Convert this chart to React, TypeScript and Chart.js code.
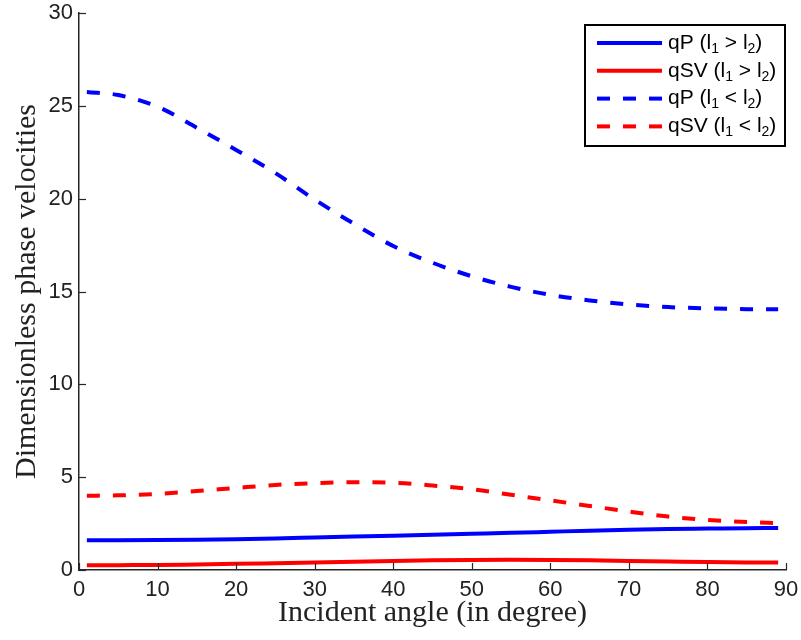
import React, { useEffect, useRef } from 'react';
import { Chart, registerables } from 'chart.js';

Chart.register(...registerables);

// Incident angle (degree)
const angles = [1, 5, 10, 15, 20, 25, 30, 35, 40, 45, 50, 55, 60, 65, 70, 75, 80, 85, 89];
// qP (l1 > l2)
const qPGreater = [1.6, 1.6, 1.61, 1.63, 1.66, 1.7, 1.75, 1.8, 1.85, 1.9, 1.95, 2.0, 2.06, 2.12, 2.17, 2.21, 2.23, 2.25, 2.26];
// qSV (l1 > l2)
const qSVGreater = [0.25, 0.26, 0.27, 0.3, 0.33, 0.37, 0.41, 0.45, 0.49, 0.52, 0.54, 0.55, 0.54, 0.52, 0.49, 0.46, 0.43, 0.41, 0.4];
// qP (l1 < l2)
const qPLess = [25.75, 25.58, 24.95, 23.82, 22.62, 21.38, 19.95, 18.65, 17.45, 16.55, 15.82, 15.25, 14.82, 14.52, 14.3, 14.16, 14.09, 14.05, 14.04];
// qSV (l1 < l2)
const qSVLess = [4.0, 4.02, 4.1, 4.25, 4.42, 4.58, 4.68, 4.73, 4.7, 4.55, 4.35, 4.05, 3.75, 3.45, 3.15, 2.88, 2.7, 2.58, 2.53];

const xTicks = [0, 10, 20, 30, 40, 50, 60, 70, 80, 90];
const yTicks = [0, 5, 10, 15, 20, 25, 30];

const seriesNames = ['qP', 'qSV', 'qP', 'qSV'];
const seriesOps = ['>', '>', '<', '<'];

const xTitle = 'Incident angle (in degree)';
const yTitle = 'Dimensionless phase velocities';

const SANS = "'Liberation Sans', Arial, Helvetica, sans-serif";
const SERIF = "'Liberation Serif', 'Times New Roman', Times, serif";

const toPoints = (ys: number[]) => angles.map((x, i) => ({ x, y: ys[i] }));

const inwardTicks = {
  id: 'inwardTicks',
  afterDraw(chart: any) {
    const { ctx, chartArea, scales } = chart;
    const x = scales.x;
    const y = scales.y;
    ctx.save();
    ctx.strokeStyle = '#262626';
    ctx.lineWidth = 1.2;
    xTicks.forEach((v) => {
      const px = Math.round(x.getPixelForValue(v)) + 0.5;
      ctx.beginPath();
      ctx.moveTo(px, chartArea.bottom);
      ctx.lineTo(px, chartArea.bottom - 7);
      ctx.stroke();
    });
    yTicks.forEach((v) => {
      const py = Math.round(y.getPixelForValue(v)) + 0.5;
      ctx.beginPath();
      ctx.moveTo(chartArea.left, py);
      ctx.lineTo(chartArea.left + 7, py);
      ctx.stroke();
    });
    ctx.restore();
  },
};

const legendBox = {
  id: 'legendBox',
  afterDraw(chart: any) {
    const { ctx, chartArea } = chart;
    const bw = 200;
    const bh = 121;
    const bx = chartArea.right - bw - 1;
    const by = chartArea.top + 12;
    ctx.save();
    ctx.fillStyle = '#ffffff';
    ctx.fillRect(bx, by, bw, bh);
    ctx.strokeStyle = '#000000';
    ctx.lineWidth = 2;
    ctx.strokeRect(bx, by, bw, bh);
    chart.data.datasets.forEach((ds: any, i: number) => {
      const ly = by + 18 + i * 27.8;
      ctx.strokeStyle = ds.borderColor;
      ctx.lineWidth = 4;
      ctx.setLineDash(ds.borderDash || []);
      ctx.beginPath();
      ctx.moveTo(bx + 12, ly);
      ctx.lineTo(bx + 77, ly);
      ctx.stroke();
      ctx.setLineDash([]);
      ctx.fillStyle = '#000000';
      ctx.textAlign = 'left';
      ctx.textBaseline = 'middle';
      const big = `21px ${SANS}`;
      const small = `14px ${SANS}`;
      let tx = bx + 83;
      const pieces: [string, boolean][] = [
        [`${seriesNames[i]} (l`, false],
        ['1', true],
        [` ${seriesOps[i]} l`, false],
        ['2', true],
        [')', false],
      ];
      pieces.forEach(([t, sub]) => {
        ctx.font = sub ? small : big;
        ctx.fillText(t, tx, sub ? ly + 6 : ly);
        tx += ctx.measureText(t).width;
      });
    });
    ctx.restore();
  },
};

export default function App() {
  const canvasRef = useRef<HTMLCanvasElement | null>(null);

  useEffect(() => {
    const canvas = canvasRef.current;
    if (!canvas) return;
    const lineBase = {
      borderWidth: 4,
      pointRadius: 0,
      cubicInterpolationMode: 'monotone',
      fill: false,
    };
    const chart = new Chart(canvas, {
      type: 'line',
      data: {
        datasets: [
          { ...lineBase, label: 'qP (l1 > l2)', data: toPoints(qPGreater), borderColor: '#0000ff' },
          { ...lineBase, label: 'qSV (l1 > l2)', data: toPoints(qSVGreater), borderColor: '#ff0000' },
          { ...lineBase, label: 'qP (l1 < l2)', data: toPoints(qPLess), borderColor: '#0000ff', borderDash: [13, 13] },
          { ...lineBase, label: 'qSV (l1 < l2)', data: toPoints(qSVLess), borderColor: '#ff0000', borderDash: [13, 13] },
        ],
      },
      options: {
        responsive: false,
        animation: false,
        events: [],
        layout: { padding: { top: 13, right: 15, left: 0, bottom: 0 } },
        plugins: {
          legend: { display: false },
          tooltip: { enabled: false },
          title: { display: false },
        },
        scales: {
          x: {
            type: 'linear',
            min: 0,
            max: 90,
            afterFit: (s: any) => {
              s.height = 70;
              s.paddingLeft = 0;
              s.paddingRight = 0;
            },
            afterBuildTicks: (s: any) => {
              s.ticks = xTicks.map((v) => ({ value: v }));
            },
            ticks: {
              font: { family: SANS, size: 22 },
              color: '#222222',
              padding: 7,
              maxRotation: 0,
              autoSkip: false,
            },
            grid: { display: true, drawOnChartArea: false, drawTicks: false, color: 'rgba(0,0,0,0)' },
            border: { display: true, color: '#262626', width: 1.5 },
            title: {
              display: true,
              text: xTitle,
              font: { family: SERIF, size: 30 },
              color: '#222222',
              padding: { top: 0, bottom: 9 },
            },
          },
          y: {
            type: 'linear',
            min: 0,
            max: 30,
            afterFit: (s: any) => {
              s.width = 79;
              s.paddingTop = 0;
              s.paddingBottom = 0;
            },
            afterBuildTicks: (s: any) => {
              s.ticks = yTicks.map((v) => ({ value: v }));
            },
            ticks: {
              font: { family: SANS, size: 22 },
              color: '#222222',
              padding: 6,
              autoSkip: false,
            },
            grid: { display: true, drawOnChartArea: false, drawTicks: false, color: 'rgba(0,0,0,0)' },
            border: { display: true, color: '#262626', width: 1.5 },
            title: {
              display: true,
              text: yTitle,
              font: { family: SERIF, size: 30 },
              color: '#222222',
              padding: { top: 9, bottom: 0 },
            },
          },
        },
      },
      plugins: [inwardTicks, legendBox],
    } as any);
    return () => {
      chart.destroy();
    };
  }, []);

  return (
    <div style={{ position: 'absolute', left: 0, top: 0, width: 801, height: 640, background: '#ffffff' }}>
      <canvas ref={canvasRef} width={801} height={640} style={{ display: 'block' }} />
    </div>
  );
}
